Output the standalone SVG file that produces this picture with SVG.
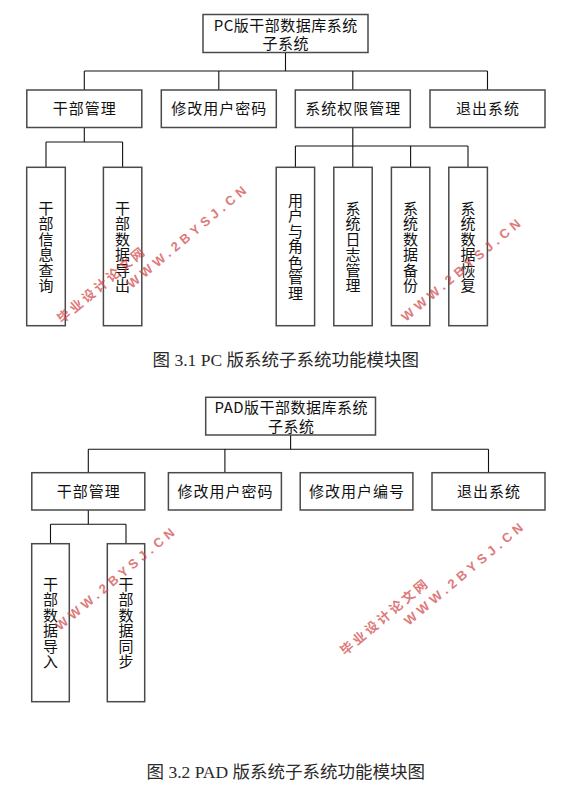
<svg xmlns="http://www.w3.org/2000/svg" width="579" height="809" viewBox="0 0 579 809">
<style>
.bx{fill:#fff;stroke:#4a4a4a;stroke-width:1.5}
.cn{fill:none;stroke:#111;stroke-width:1.1}
.t{font-family:"Noto Sans CJK SC","Noto Sans",sans-serif;font-size:15px;fill:#111;text-anchor:middle}
.l1{letter-spacing:1px}
.top{letter-spacing:0.5px}
.cap{font-family:"Liberation Serif","Noto Sans CJK SC",serif;font-size:17.5px;fill:#2a2a2a;text-anchor:middle}
.wm{font-family:"Liberation Sans","Noto Sans CJK SC",sans-serif;font-size:13px;font-weight:bold;fill:#d24848;opacity:0.72}
.wm1{letter-spacing:3px}
.wm2{letter-spacing:4.3px}
</style>
<rect width="579" height="809" fill="#fff"/>

<g id="connectors">
  <path class="cn" d="M285.5 52.5V71M84.3 71H487.5M84.3 71V90M218.8 71V90M352.8 71V90M487.5 71V90"/>
  <path class="cn" d="M84.3 127.5V142M46 142H122.6M46 142V167.3M122.6 142V167.3"/>
  <path class="cn" d="M352.8 127.5V146M295.4 146H468M295.4 146V167.3M352.8 146V167.3M410.6 146V167.3M468 146V167.3"/>
  <path class="cn" d="M290.6 435V449.3M88.3 449.3H488.5M88.3 449.3V472.7M224.9 449.3V472.7M488.5 449.3V472.7"/>
  <path class="cn" d="M88.3 510V524.3M50.5 524.3H126M50.5 524.3V543.7M126 524.3V543.7"/>
</g>

<g id="pc-root">
  <rect class="bx" x="203" y="14.5" width="165" height="38"/>
  <text class="t top"><tspan x="285.8" y="30.9">PC版干部数据库系统</tspan><tspan x="285.8" y="49">子系统</tspan></text>
</g>
<g id="pc-ganbu">
  <rect class="bx" x="26.8" y="90" width="115" height="37.5"/>
  <text class="t l1" x="84.8" y="114.4">干部管理</text>
</g>
<g id="pc-mima">
  <rect class="bx" x="161.3" y="90" width="115" height="37.5"/>
  <text class="t l1" x="219.3" y="114.4">修改用户密码</text>
</g>
<g id="pc-quanxian">
  <rect class="bx" x="295.3" y="90" width="115" height="37.5"/>
  <text class="t l1" x="353.3" y="114.4">系统权限管理</text>
</g>
<g id="pc-tuichu">
  <rect class="bx" x="430" y="90" width="115" height="37.5"/>
  <text class="t l1" x="488" y="114.4">退出系统</text>
</g>
<g id="pc-chaxun">
  <rect class="bx" x="26.7" y="167.3" width="38.6" height="158.4"/>
  <text class="t"><tspan x="46" y="213.5">干</tspan><tspan x="46" y="229">部</tspan><tspan x="46" y="244.5">信</tspan><tspan x="46" y="260">息</tspan><tspan x="46" y="275.5">查</tspan><tspan x="46" y="291">询</tspan></text>
</g>
<g id="pc-daochu">
  <rect class="bx" x="103.4" y="167.3" width="38.4" height="158.4"/>
  <text class="t"><tspan x="122.6" y="213.5">干</tspan><tspan x="122.6" y="229">部</tspan><tspan x="122.6" y="244.5">数</tspan><tspan x="122.6" y="260">据</tspan><tspan x="122.6" y="275.5">导</tspan><tspan x="122.6" y="291">出</tspan></text>
</g>
<g id="pc-juese">
  <rect class="bx" x="276.2" y="167.3" width="38.4" height="158.4"/>
  <text class="t"><tspan x="295.4" y="205.7">用</tspan><tspan x="295.4" y="221.2">户</tspan><tspan x="295.4" y="236.7">与</tspan><tspan x="295.4" y="252.2">角</tspan><tspan x="295.4" y="267.7">色</tspan><tspan x="295.4" y="283.2">管</tspan><tspan x="295.4" y="298.7">理</tspan></text>
</g>
<g id="pc-rizhi">
  <rect class="bx" x="333.8" y="167.3" width="38.4" height="158.4"/>
  <text class="t"><tspan x="353" y="213.5">系</tspan><tspan x="353" y="229">统</tspan><tspan x="353" y="244.5">日</tspan><tspan x="353" y="260">志</tspan><tspan x="353" y="275.5">管</tspan><tspan x="353" y="291">理</tspan></text>
</g>
<g id="pc-beifen">
  <rect class="bx" x="391.4" y="167.3" width="38.4" height="158.4"/>
  <text class="t"><tspan x="410.6" y="213.5">系</tspan><tspan x="410.6" y="229">统</tspan><tspan x="410.6" y="244.5">数</tspan><tspan x="410.6" y="260">据</tspan><tspan x="410.6" y="275.5">备</tspan><tspan x="410.6" y="291">份</tspan></text>
</g>
<g id="pc-huifu">
  <rect class="bx" x="448.8" y="167.3" width="38.6" height="158.4"/>
  <text class="t"><tspan x="468" y="213.5">系</tspan><tspan x="468" y="229">统</tspan><tspan x="468" y="244.5">数</tspan><tspan x="468" y="260">据</tspan><tspan x="468" y="275.5">恢</tspan><tspan x="468" y="291">复</tspan></text>
</g>
<text id="cap1" class="cap" x="285.8" y="366">图 3.1 PC 版系统子系统功能模块图</text>

<g id="pad-root">
  <rect class="bx" x="205.7" y="397.3" width="169.8" height="37.7"/>
  <text class="t top"><tspan x="291.3" y="413.2">PAD版干部数据库系统</tspan><tspan x="291.3" y="431.7">子系统</tspan></text>
</g>
<g id="pad-ganbu">
  <rect class="bx" x="31.8" y="472.7" width="113" height="37.3"/>
  <text class="t l1" x="88.8" y="496.5">干部管理</text>
</g>
<g id="pad-mima">
  <rect class="bx" x="168.4" y="472.7" width="113" height="37.3"/>
  <text class="t l1" x="225.4" y="496.5">修改用户密码</text>
</g>
<g id="pad-bianhao">
  <rect class="bx" x="300.2" y="472.7" width="112.7" height="37.3"/>
  <text class="t l1" x="357" y="496.5">修改用户编号</text>
</g>
<g id="pad-tuichu">
  <rect class="bx" x="432" y="472.7" width="113" height="37.3"/>
  <text class="t l1" x="489" y="496.5">退出系统</text>
</g>
<g id="pad-daoru">
  <rect class="bx" x="31.7" y="543.7" width="37.6" height="158"/>
  <text class="t"><tspan x="50.5" y="589.7">干</tspan><tspan x="50.5" y="605.2">部</tspan><tspan x="50.5" y="620.7">数</tspan><tspan x="50.5" y="636.2">据</tspan><tspan x="50.5" y="651.7">导</tspan><tspan x="50.5" y="667.2">入</tspan></text>
</g>
<g id="pad-tongbu">
  <rect class="bx" x="107.3" y="543.7" width="37.4" height="158"/>
  <text class="t"><tspan x="126" y="589.7">干</tspan><tspan x="126" y="605.2">部</tspan><tspan x="126" y="620.7">数</tspan><tspan x="126" y="636.2">据</tspan><tspan x="126" y="651.7">同</tspan><tspan x="126" y="667.2">步</tspan></text>
</g>
<text id="cap2" class="cap" x="285.8" y="778.3">图 3.2 PAD 版系统子系统功能模块图</text>

<g id="watermarks">
  <g transform="translate(62 324) rotate(-40)">
    <text class="wm wm1" x="0" y="0">毕业设计论文网</text>
    <text class="wm wm2" x="76" y="18">WWW.2BYSJ.CN</text>
  </g>
  <text class="wm wm2" transform="translate(406 322) rotate(-40)">WWW.2BYSJ.CN</text>
  <text class="wm wm2" transform="translate(60 631) rotate(-40)">WWW.2BYSJ.CN</text>
  <g transform="translate(345 656) rotate(-40)">
    <text class="wm wm1" x="0" y="0">毕业设计论文网</text>
    <text class="wm wm2" x="68" y="18">WWW.2BYSJ.CN</text>
  </g>
</g>
</svg>
